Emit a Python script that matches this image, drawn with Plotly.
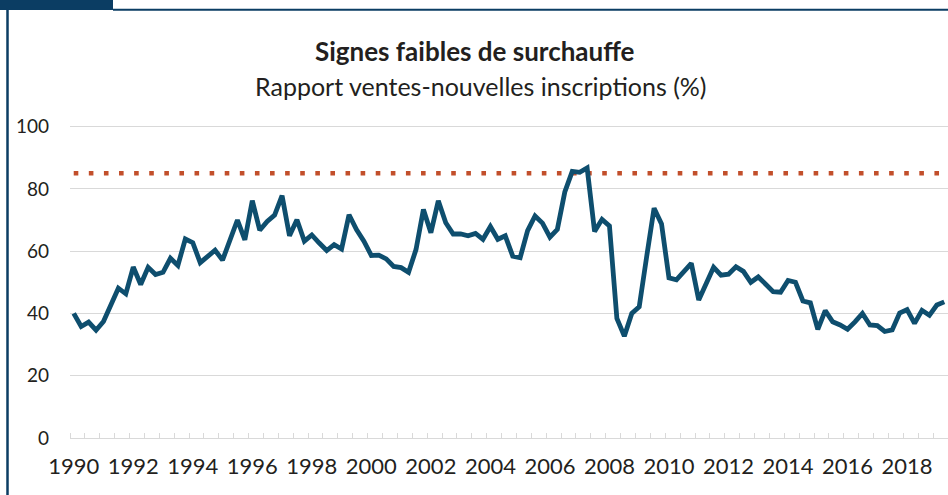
import plotly.graph_objects as go

# ---- data (quarterly, 1990Q1 .. 2019Q2) ----
start_year = 1990
ratio = [
    40.0, 35.8, 37.2, 34.6, 37.4, 43.0, 48.1, 46.3, 54.9, 49.3,
    54.8, 52.5, 53.2, 57.7, 55.4, 63.9, 62.7, 56.3, 58.4, 60.3,
    57.1, 63.6, 70.0, 63.6, 76.2, 66.7, 69.5, 71.6, 77.8, 64.9,
    70.1, 63.2, 65.2, 62.6, 60.2, 62.1, 60.7, 71.7, 66.9, 63.2,
    58.6, 58.7, 57.5, 55.1, 54.7, 53.2, 60.5, 73.4, 65.9, 76.2,
    69.1, 65.5, 65.5, 64.9, 65.7, 63.8, 67.9, 63.8, 64.9, 58.4,
    57.9, 66.6, 71.3, 69.0, 64.5, 67.0, 79.0, 85.6, 85.3, 86.7,
    66.3, 70.2, 68.1, 38.4, 32.7, 40.0, 42.1, 58.2, 73.8, 68.7,
    51.4, 50.8, 53.7, 56.1, 44.3, 49.6, 54.8, 52.3, 52.6, 55.0,
    53.5, 50.0, 51.7, 49.4, 47.0, 46.8, 50.6, 50.0, 44.0, 43.4,
    34.9, 40.9, 37.3, 36.3, 34.9, 37.3, 40.0, 36.3, 36.1, 34.2,
    34.7, 40.1, 41.2, 36.8, 41.0, 39.4, 42.7, 43.7,
]
threshold = 85
dates = [start_year + i / 4 for i in range(len(ratio))]
threshold_series = [threshold] * len(ratio)
year_ticks = list(range(1990, 2019, 2))
y_ticks = [0, 20, 40, 60, 80, 100]

title = "Signes faibles de surchauffe"
subtitle = "Rapport ventes-nouvelles inscriptions (%)"

# ---- styling ----
W, H = 948, 495
ML, MR, MT, MB = 70, 0, 125, 57
FONT = "Lato"
NAVY = "#0b3d63"
LINE = "#0e4e6e"
DOT = "#c24f2b"
GRID = "#d9d9d9"
TEXT = "#231f20"

pw = W - ML - MR
ph = H - MT - MB


def px_x(x):
    return (x - ML) / pw


def px_y(y):
    return (H - MB - y) / ph


fig = go.Figure()
fig.add_trace(go.Scatter(
    x=dates, y=threshold_series, mode="lines",
    line=dict(color=DOT, width=4.6, dash="4.6px,10.5px"),
    hoverinfo="skip", showlegend=False,
))
fig.add_trace(go.Scatter(
    x=dates, y=ratio, mode="lines",
    line=dict(color=LINE, width=4.8),
    showlegend=False,
))

shapes = [
    # dark tab top-left
    dict(type="rect", xref="paper", yref="paper",
         x0=px_x(-2), x1=px_x(113), y0=px_y(10), y1=px_y(-2),
         fillcolor=NAVY, line=dict(width=0), layer="above"),
    # top rule
    dict(type="line", xref="paper", yref="paper",
         x0=px_x(113), x1=px_x(W + 2), y0=px_y(9.8), y1=px_y(9.8),
         line=dict(color=NAVY, width=2)),
    # left rule
    dict(type="line", xref="paper", yref="paper",
         x0=px_x(7.5), x1=px_x(7.5), y0=px_y(9), y1=px_y(H + 2),
         line=dict(color=NAVY, width=2.5)),
]

annotations = [
    dict(text="<b>" + title + "</b>", xref="paper", yref="paper",
         x=px_x(475), y=px_y(51), xanchor="center", yanchor="middle",
         showarrow=False, font=dict(family=FONT, size=26, color=TEXT)),
    dict(text=subtitle, xref="paper", yref="paper",
         x=px_x(481), y=px_y(86), xanchor="center", yanchor="middle",
         showarrow=False, font=dict(family=FONT, size=25, color=TEXT)),
]

fig.update_layout(
    width=W, height=H,
    margin=dict(l=ML, r=MR, t=MT, b=MB, pad=0),
    paper_bgcolor="white", plot_bgcolor="white",
    font=dict(family=FONT, color=TEXT),
    shapes=shapes, annotations=annotations,
    showlegend=False,
)
fig.update_xaxes(
    range=[1989.875, 2019.375],
    tickmode="array", tickvals=year_ticks, ticktext=[str(y) for y in year_ticks],
    ticks="", showgrid=False, zeroline=False,
    showline=True, linecolor=GRID, linewidth=1.3,
    tickfont=dict(family=FONT, size=22, color=TEXT),
    ticklabelstandoff=8,
    minor=dict(ticks="inside", tickmode="linear", tick0=1989.875, dtick=0.5,
               ticklen=5, tickcolor=GRID, tickwidth=1.3, showgrid=False),
)
fig.update_yaxes(
    range=[0, 100.5],
    tickmode="array", tickvals=y_ticks,
    ticks="", showgrid=True, gridcolor=GRID, gridwidth=1.3,
    zeroline=False, showline=False,
    tickfont=dict(family=FONT, size=19, color=TEXT),
    ticklabelstandoff=20,
)

fig.write_html(
    "out.html",
    config={"displayModeBar": False},
    post_script="document.body.style.margin='0';document.body.style.overflow='hidden';",
)
